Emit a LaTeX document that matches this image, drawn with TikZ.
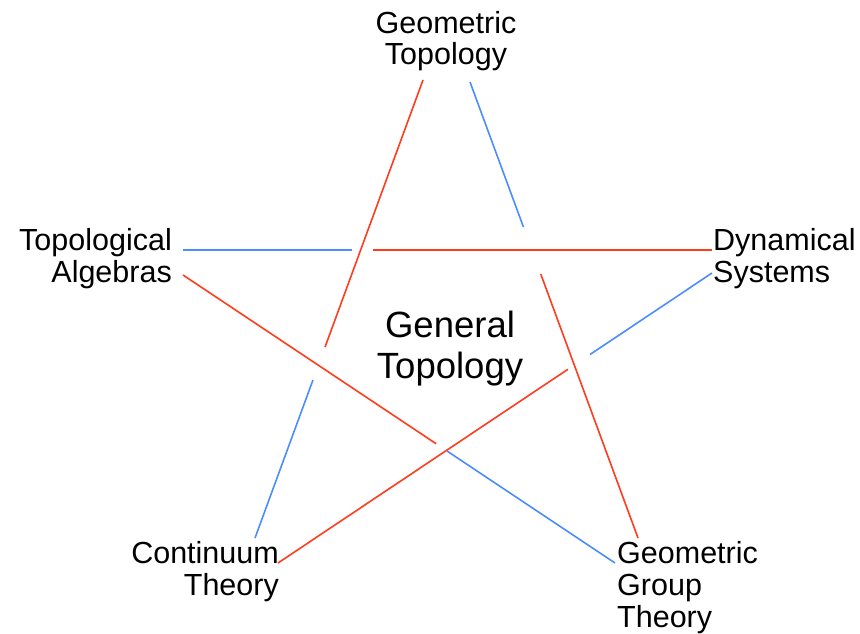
\documentclass[tikz,border=0pt]{standalone}
\usepackage{fontspec}
\setmainfont{Liberation Sans}
\usepackage{xcolor}
\usepackage{tikz}
\usetikzlibrary{
  calc,
  positioning
}
\definecolor{linered}{HTML}{FF3C1E}
\definecolor{lineblue}{HTML}{4C8CFF}
\tikzset{
  fieldlabel/.style={
    inner sep=0pt, font=\fontsize{30.5}{32}\selectfont
  },
  centrelabel/.style={
    inner sep=0pt, align=center, font=\fontsize{36.5}{41}\selectfont
  },
  redline/.style={
    draw=linered, line width=1.6pt
  },
  blueline/.style={
    draw=lineblue, line width=1.6pt
  },
}

\begin{document}
\begin{tikzpicture}[x=1pt, y=-1pt]
  \useasboundingbox (0,0) rectangle (860,634);

  % the fields round the star
  \node[fieldlabel, align=center, anchor=base] (gt)  at (446,65)  {Geometric\\Topology};
  \node[fieldlabel, align=right, anchor=base east] (ta)  at (172,282) {Topological\\Algebras};
  \node[fieldlabel, align=left, anchor=base west]  (ds)  at (713,282) {Dynamical\\Systems};
  \node[fieldlabel, align=right, anchor=base east] (ct)  at (279,595) {Continuum\\Theory};
  \node[fieldlabel, align=left, anchor=base west]  (ggt) at (617,627) {Geometric\\Group\\Theory};
  \node[centrelabel, anchor=base] (gen) at (450,378) {General\\Topology};

  % ends of the lines
  \coordinate (gtL)  at (423,80);
  \coordinate (gtR)  at (470,82);
  \coordinate (taU)  at (183,250);
  \coordinate (taD)  at (183,275);
  \coordinate (dsU)  at (712,250);
  \coordinate (dsD)  at (712,273);
  \coordinate (ctU)  at (255,538);
  \coordinate (ctR)  at (278,563);
  \coordinate (ggtU) at (638,538);
  \coordinate (ggtL) at (615,563);

  % each line breaks where it passes under another
  \draw[redline]  (gtL) -- ($(gtL)!0.583!(ctU)$);
  \draw[blueline] ($(gtL)!0.655!(ctU)$) -- (ctU);

  \draw[blueline] (gtR) -- ($(gtR)!0.318!(ggtU)$);
  \draw[redline]  ($(gtR)!0.421!(ggtU)$) -- (ggtU);

  \draw[blueline] (taU) -- ($(taU)!0.319!(dsU)$);
  \draw[redline]  ($(taU)!0.359!(dsU)$) -- (dsU);

  \draw[redline]  (taD) -- ($(taD)!0.586!(ggtL)$);
  \draw[blueline] ($(taD)!0.611!(ggtL)$) -- (ggtL);

  \draw[redline]  (ctR) -- ($(ctR)!0.668!(dsD)$);
  \draw[blueline] ($(ctR)!0.719!(dsD)$) -- (dsD);
\end{tikzpicture}
\end{document}
